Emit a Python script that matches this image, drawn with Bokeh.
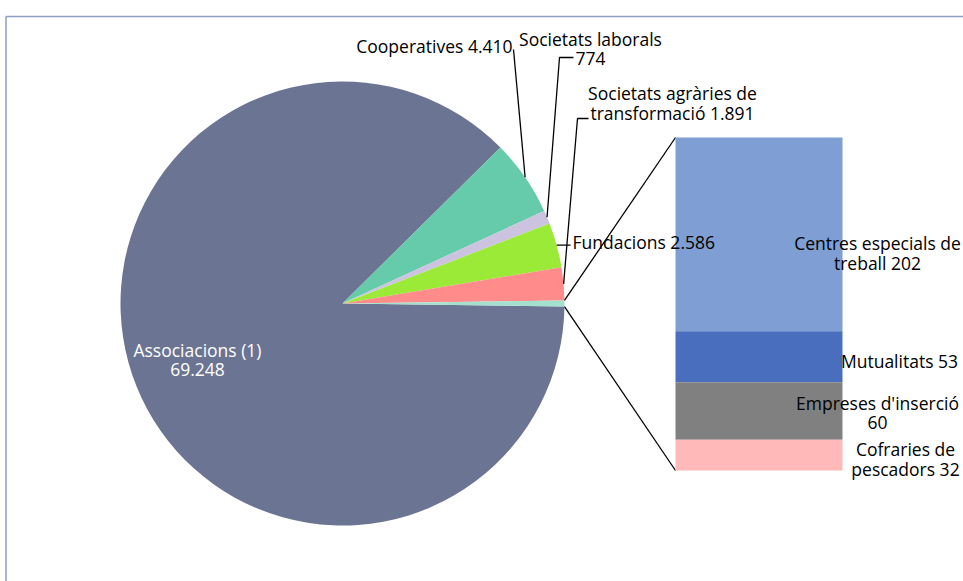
import math
from bokeh.plotting import figure
from bokeh.models import Range1d, ColumnDataSource
from bokeh.core.properties import value
from bokeh.embed import file_html
from bokeh.resources import INLINE

# ---------------- data ----------------
pie_names = ["Associacions (1)", "Cooperatives", "Societats laborals", "Fundacions",
             "Societats agràries de\ntransformació"]
pie_values = [69248, 4410, 774, 2586, 1891]
pie_colors = ["#6B7593", "#66CBAA", "#CCC3E0", "#9BEA38", "#FF8B8B"]
pie_seps = ["\n", " ", "\n", " ", " "]

bar_names = ["Centres especials de\ntreball", "Mutualitats", "Empreses d'inserció", "Cofraries de\npescadors"]
bar_values = [202, 53, 60, 32]
bar_seps = [" ", " ", "\n", " "]
bar_colors = ["#7F9ED3", "#4A6EBE", "#808080", "#FFB9B9"]
other_color = "#A4E0CE"


def fmt(v):
    return f"{v:,}".replace(",", ".")


# ---------------- figure ----------------
W, H = 963, 581
p = figure(width=W, height=H, x_range=Range1d(0, W), y_range=Range1d(0, H),
           x_axis_type=None, y_axis_type=None, output_backend="svg",
           toolbar_location=None, min_border=0)
p.grid.visible = False
p.outline_line_color = None
p.background_fill_color = "white"


def Y(img_y):
    return H - img_y


FONT = value("Open Sans")
FS = "17.5px"
LINE = 20

# chart frame
p.segment(x0=[5.5, 5.5], y0=[Y(16), Y(16)], x1=[W, 5.5], y1=[Y(16), 0],
          line_color="#8E9DC4", line_width=1.5)

# ---------------- pie ----------------
cx, cy, R = 342, Y(303), 222
other_val = sum(bar_values)
all_vals = pie_values + [other_val]
total = sum(all_vals)

# other slice centred on the horizontal axis, remaining slices counter-clockwise
half = math.pi * other_val / total
starts, ends = [0.0] * len(pie_values), [0.0] * len(pie_values)
a = half
for i in reversed(range(len(pie_values))):
    span = 2 * math.pi * pie_values[i] / total
    starts[i] = a
    ends[i] = a + span
    a += span

src = ColumnDataSource(dict(start=starts + [-half], end=ends + [half],
                            color=pie_colors + [other_color]))
p.wedge(x=cx, y=cy, radius=R, start_angle="start", end_angle="end",
        fill_color="color", line_color=None, source=src)


def edge(i):
    m = (starts[i] + ends[i]) / 2
    return cx + R * math.cos(m), cy + R * math.sin(m)


# leader lines
lx, ly = [], []
ex, ey = edge(1)
lx.append([ex, 513]); ly.append([ey, Y(49)])
ex, ey = edge(2)
lx.append([ex, 559, 573]); ly.append([ey, Y(57), Y(57)])
ex, ey = edge(4)
lx.append([ex, 577, 588]); ly.append([ey, Y(118), Y(118)])
ex, ey = edge(3)
lx.append([ex, 570]); ly.append([ey, ey])
# connectors pie -> bar
lx.append([cx + R * math.cos(half), 675]); ly.append([cy + R * math.sin(half), Y(137)])
lx.append([cx + R * math.cos(-half), 675]); ly.append([cy + R * math.sin(-half), Y(470)])
p.multi_line(xs=lx, ys=ly, line_color="black", line_width=1.3)

# ---------------- bar of pie ----------------
bar_px = 470 - 137
unit = bar_px / other_val
start_v = -Y(470) / unit
p.extra_y_ranges = {"bar": Range1d(start_v, start_v + H / unit)}
tops, bottoms = [], []
cum = other_val
for v in bar_values:
    tops.append(cum)
    bottoms.append(cum - v)
    cum -= v
p.quad(left=675, right=842, top=tops, bottom=bottoms, fill_color=bar_colors,
       line_color=None, y_range_name="bar")

# ---------------- labels ----------------
pie_texts = [n + s + fmt(v) for n, s, v in zip(pie_names, pie_seps, pie_values)]
bar_texts = [n + s + fmt(v) for n, s, v in zip(bar_names, bar_seps, bar_values)]


def label(txt, x, y_mid, align="center", color="black"):
    lines = txt.split("\n")
    n = len(lines)
    ys = [Y(y_mid + (k - (n - 1) / 2) * LINE) for k in range(n)]
    p.text(x=[x] * n, y=ys, text=lines, text_font=FONT, text_font_size=FS,
           text_align=align, text_baseline="middle", text_color=color)


label(pie_texts[0], 197, 359, color="white")
label(pie_texts[1], 512, 45, align="right")
label(pie_texts[2], 590, 48)
label(pie_texts[3], 572, 241, align="left")
label(pie_texts[4], 672, 102)

label(bar_texts[0], 877, 252)
label(bar_texts[1], 899, 360)
label(bar_texts[2], 877, 412)
label(bar_texts[3], 905, 458)

open("out.html", "w").write(file_html(p, INLINE))
